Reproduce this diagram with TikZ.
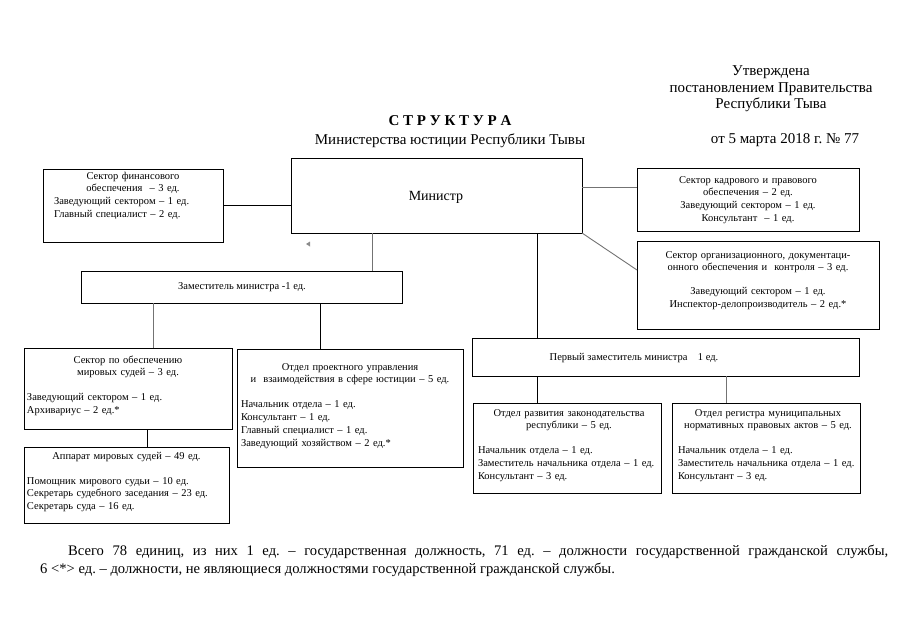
\documentclass[tikz,border=0pt]{standalone}
\usepackage{fontspec}
\setmainfont{Liberation Serif}
\frenchspacing
\newcommand\myst{\rule{0pt}{9pt}}
\newcommand\mybig{\rule{0pt}{11pt}}
\begin{document}
\begin{tikzpicture}[x=1pt,y=-1pt,
  box/.style={draw=black, line width=1pt, inner sep=0pt, outer sep=0pt, anchor=north west},
  bt/.style={inner sep=0pt, outer sep=0pt, font=\fontsize{10.5}{12.7}\selectfont, anchor=north west, align=left},
  ct/.style={inner sep=0pt, outer sep=0pt, font=\fontsize{10.5}{12.7}\selectfont, anchor=north west, align=center},
  hd/.style={inner sep=0pt, font=\fontsize{15}{16.5}\selectfont},
  ln/.style={line width=0.9pt, draw=black},
  lg/.style={line width=0.9pt, draw=black!55}]
\useasboundingbox (0,0) rectangle (905,640);

% header
\node[hd] (t1) at (450,121) {\textbf{С Т Р У К Т У Р А}};
\node[hd] (t2) at (450,141) {Министерства юстиции Республики Тывы};
\node[hd, align=center] (t3) at (771,89) {Утверждена\\постановлением Правительства\\Республики Тыва};
\node[hd] (t4) at (785,140) {от 5 марта 2018 г.\ № 77};

% boxes
\node[box, minimum width=291pt, minimum height=75pt] (min) at (291,158) {};
\node[inner sep=0pt, font=\fontsize{14}{16}\selectfont] (mint) at (436,197) {Министр};

\node[box, minimum width=180pt, minimum height=73pt] (fin) at (43,169) {};
\node[bt, text width=158pt] (fint) at (54,170) {{\centering\myst Сектор финансового\\ обеспечения\ \ – 3 ед.\par}Заведующий сектором – 1 ед.\\ Главный специалист – 2 ед.};

\node[box, minimum width=222pt, minimum height=63pt] (kadr) at (637,168) {};
\node[ct, text width=222pt] (kadrt) at (637,174) {\myst Сектор кадрового и правового\\ обеспечения – 2 ед.\\ Заведующий сектором – 1 ед.\\ Консультант\ \ – 1 ед.};

\node[box, minimum width=242pt, minimum height=88pt] (org) at (637,241) {};
\node[ct, text width=242pt] (orgt) at (637,249) {\myst Сектор организационного, документаци-\\ онного обеспечения и\ \ контроля – 3 ед.\\[11pt] Заведующий сектором – 1 ед.\\ Инспектор-делопроизводитель – 2 ед.*};

\node[box, minimum width=321pt, minimum height=32pt] (dep) at (81,271) {};
\node[inner sep=0pt, font=\fontsize{10.5}{12.5}\selectfont] (dept) at (242,287) {Заместитель министра -1 ед.};

\node[box, minimum width=208pt, minimum height=81pt] (sec) at (24,348) {};
\node[bt, text width=202pt] (sect) at (27,354) {{\centering\myst Сектор по обеспечению\\ мировых судей – 3 ед.\par}\vspace{12.5pt}Заведующий сектором – 1 ед.\\ Архивариус – 2 ед.*};

\node[box, minimum width=226pt, minimum height=118pt] (proj) at (237,349) {};
\node[bt, text width=218pt] (projt) at (241,361) {{\centering\myst Отдел проектного управления\\ и\ \ взаимодействия в сфере юстиции – 5 ед.\par}\vspace{12.5pt}Начальник отдела – 1 ед.\\ Консультант – 1 ед.\\ Главный специалист – 1 ед.\\ Заведующий хозяйством – 2 ед.*};

\node[box, minimum width=205pt, minimum height=76pt] (app) at (24,447) {};
\node[bt, text width=199pt] (appt) at (27,450) {{\centering\myst Аппарат мировых судей – 49 ед.\par}\vspace{12.5pt}Помощник мирового судьи – 10 ед.\\ Секретарь судебного заседания – 23 ед.\\ Секретарь суда – 16 ед.};

\node[box, minimum width=387pt, minimum height=38pt] (fd) at (472,338) {};
\node[inner sep=0pt, font=\fontsize{10.5}{12.5}\selectfont] (fdt) at (634,358) {Первый заместитель министра\ \ \ \ 1 ед.};

\node[box, minimum width=188pt, minimum height=90pt] (razv) at (473,403) {};
\node[bt, text width=182pt] (razvt) at (478,407) {{\centering\myst Отдел развития законодательства\\ республики – 5 ед.\par}\vspace{12.5pt}Начальник отдела – 1 ед.\\ Заместитель начальника отдела – 1 ед.\\ Консультант – 3 ед.};

\node[box, minimum width=188pt, minimum height=90pt] (reg) at (672,403) {};
\node[bt, text width=180pt] (regt) at (678,407) {{\centering\myst Отдел регистра муниципальных\\ нормативных правовых актов – 5 ед.\par}\vspace{12.5pt}Начальник отдела – 1 ед.\\ Заместитель начальника отдела – 1 ед.\\ Консультант – 3 ед.};

% connectors
\draw[ln] (fin.east) -- (fin.east -| min.west);
\draw[lg] ([yshift=12pt]kadr.west -| min.east) -- ([yshift=12pt]kadr.west);
\draw[lg] (min.south east) -- ([yshift=15pt]org.west);
\coordinate (m1) at ([xshift=-64pt]min.south);
\draw[lg] (m1) -- (m1 |- dep.north);
\coordinate (m2) at ([xshift=100.5pt]min.south);
\draw[ln] (m2) -- (m2 |- fd.north);
\coordinate (d1) at ([xshift=-88.5pt]dep.south);
\draw[lg] (d1) -- (d1 |- sec.north);
\coordinate (d2) at ([xshift=78.5pt]dep.south);
\draw[ln] (d2) -- (d2 |- proj.north);
\coordinate (s1) at ([xshift=19pt]sec.south);
\draw[ln] (s1) -- (s1 |- app.north);
\coordinate (f1) at ([xshift=-128.5pt]fd.south);
\draw[ln] (f1) -- (f1 |- razv.north);
\coordinate (f2) at ([xshift=60.5pt]fd.south);
\draw[lg] (f2) -- (f2 |- reg.north);

% small grey mark
\fill[black!45] (306,244) -- (310,241.5) -- (310,246.5) -- cycle;

% footnote text
\node[inner sep=0pt, anchor=north west, text width=848pt, align=justify, font=\fontsize{14.6}{18}\selectfont] (note) at (40,544) {\tolerance=9999\mybig\hspace*{28pt}Всего 78 единиц, из них 1 ед. – государственная должность, 71 ед. – должности государственной гражданской службы,\linebreak 6 <*> ед. – должности, не являющиеся должностями государственной гражданской службы.};
\end{tikzpicture}
\end{document}
